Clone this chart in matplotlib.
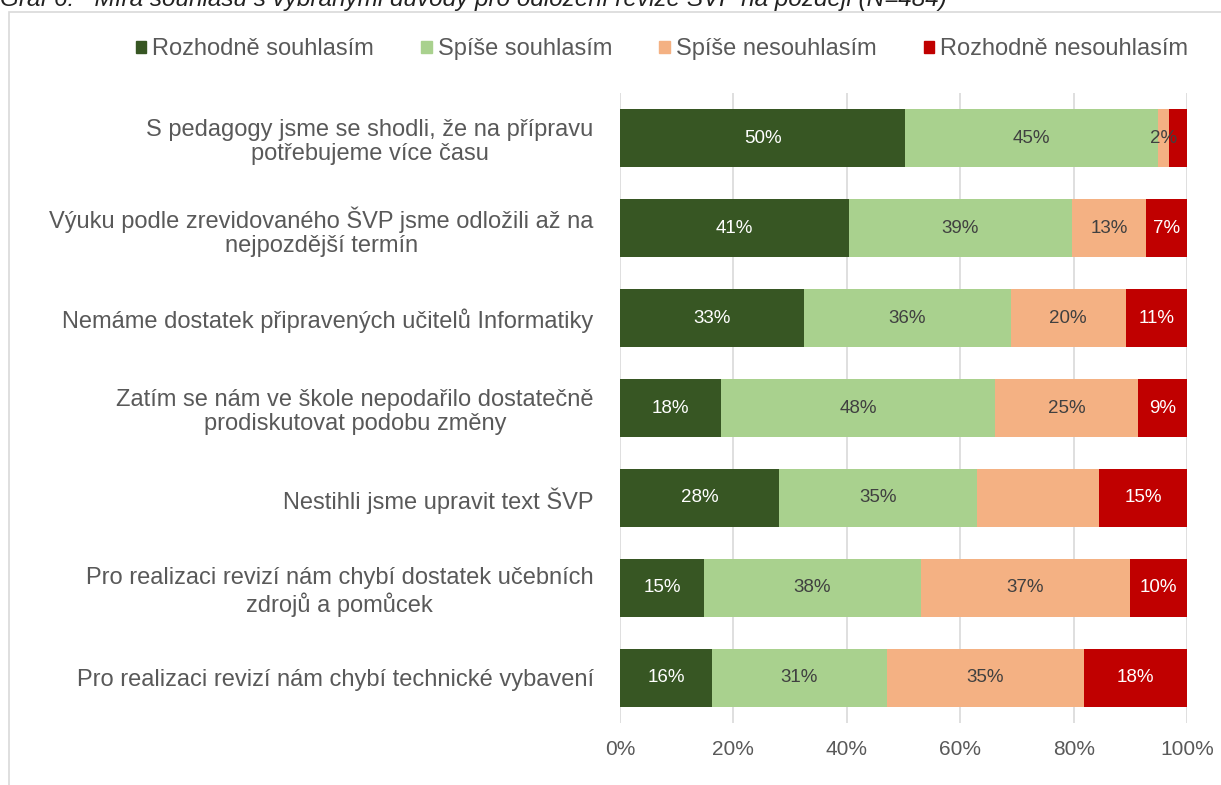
import numpy as np
import matplotlib.pyplot as plt
from matplotlib.patches import Patch, Rectangle

plt.rcParams['font.family'] = ['Liberation Sans', 'DejaVu Sans']

categories = [
    "S pedagogy jsme se shodli, že na přípravu\npotřebujeme více času",
    "Výuku podle zrevidovaného ŠVP jsme odložili až na\nnejpozdější termín",
    "Nemáme dostatek připravených učitelů Informatiky",
    "Zatím se nám ve škole nepodařilo dostatečně\nprodiskutovat podobu změny",
    "Nestihli jsme upravit text ŠVP",
    "Pro realizaci revizí nám chybí dostatek učebních\nzdrojů a pomůcek",
    "Pro realizaci revizí nám chybí technické vybavení",
]
series = ["Rozhodně souhlasím", "Spíše souhlasím", "Spíše nesouhlasím", "Rozhodně nesouhlasím"]

rozhodne_souhlasim = [50.3, 40.4, 32.5, 17.8, 28.0, 14.8, 16.2]
spise_souhlasim = [44.6, 39.3, 36.4, 48.3, 35.0, 38.3, 30.9]
spise_nesouhlasim = [1.9, 13.1, 20.3, 25.3, 21.5, 36.8, 34.7]
rozhodne_nesouhlasim = [3.2, 7.2, 10.8, 8.6, 15.5, 10.1, 18.2]

# labels as shown in the chart (some were removed in the original)
labels = [
    ["50%", "41%", "33%", "18%", "28%", "15%", "16%"],
    ["45%", "39%", "36%", "48%", "35%", "38%", "31%"],
    ["2%", "13%", "20%", "25%", "", "37%", "35%"],
    ["", "7%", "11%", "9%", "15%", "10%", "18%"],
]

colors = ["#375623", "#A9D18E", "#F4B183", "#C00000"]
text_colors = ["white", "#404040", "#404040", "white"]
gray = "#595959"

fig = plt.figure(figsize=(12.21, 7.85), dpi=100)
ax = fig.add_axes([0.5078, 0.079, 0.4644, 0.8025])

data = [rozhodne_souhlasim, spise_souhlasim, spise_nesouhlasim, rozhodne_nesouhlasim]
y = np.arange(len(categories))
left = np.zeros(len(categories))
for i, vals in enumerate(data):
    vals = np.array(vals)
    ax.barh(y, vals, left=left, height=0.64, color=colors[i], zorder=3)
    for j, v in enumerate(vals):
        if labels[i][j]:
            ax.text(left[j] + v / 2, y[j], labels[i][j], ha='center', va='center',
                    color=text_colors[i], fontsize=13.5, zorder=4)
    left += vals

ax.set_xlim(0, 100)
ax.set_ylim(len(categories) - 0.5, -0.5)
ax.set_xticks(np.arange(0, 101, 20))
ax.set_xticklabels([f"{t}%" for t in range(0, 101, 20)], color=gray, fontsize=15)
ax.set_yticks(y)
ax.set_yticklabels(categories, color=gray, fontsize=17)
for t in ax.get_yticklabels():
    t.set_multialignment('center')
    t.set_linespacing(1.15)
ax.tick_params(axis='y', length=0, pad=19)
ax.tick_params(axis='x', length=0, pad=12)
ax.grid(axis='x', color='#d9d9d9', linewidth=1.2, zorder=0)
for s in ax.spines.values():
    s.set_visible(False)

handles = [Patch(color=c) for c in colors]
fig.legend(handles, series, loc='center', bbox_to_anchor=(0.542, 0.937), ncol=4,
           frameon=False, fontsize=17, labelcolor=gray, handlelength=0.45,
           handleheight=0.45, handletextpad=0.25, columnspacing=2.0)

# chart frame
fig.patches.append(Rectangle((9 / 1221, -0.05), 1.1, 1.05 - 12 / 785, transform=fig.transFigure,
                             fill=False, edgecolor='#d9d9d9', linewidth=1.2))

# cut-off caption at top
fig.text(0.0, 1 - 6 / 785, "Graf 6:   Míra souhlasu s vybranými důvody pro odložení revize ŠVP na později (N=484)",
         style='italic', fontsize=17.5, color='#222222', va='baseline', ha='left')

fig.savefig("out.png", dpi=100)
